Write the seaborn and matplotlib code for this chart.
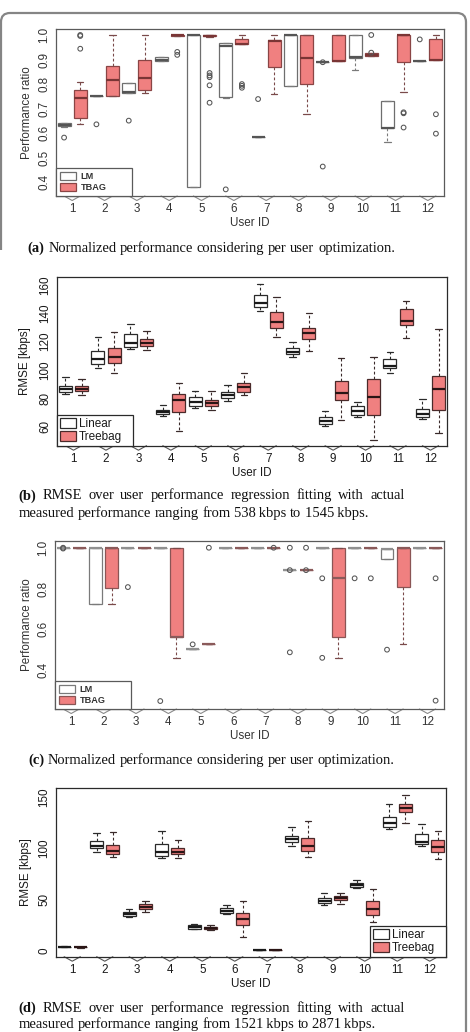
import numpy as np
import pandas as pd
import matplotlib
matplotlib.use("Agg")
import matplotlib.pyplot as plt
import matplotlib.transforms as mtransforms
from matplotlib.patches import Patch, FancyBboxPatch, Rectangle
import seaborn as sns

# ---------------- data ----------------
users = [str(i) for i in range(1, 13)]
SLOTS = list(range(24))

# five-number summaries per user: [lower whisker, Q1, median, Q3, upper whisker]
a_names = ["LM", "TBAG"]
a_lm = [
    [0.625, 0.628, 0.632, 0.640, 0.642],
    [0.750, 0.750, 0.750, 0.750, 0.750],
    [0.765, 0.765, 0.766, 0.805, 0.805],
    [0.894, 0.895, 0.897, 0.912, 0.912],
    [0.382, 0.382, 0.998, 1.000, 1.000],
    [0.742, 0.746, 0.955, 0.966, 0.966],
    [0.583, 0.583, 0.583, 0.583, 0.583],
    [0.792, 0.792, 0.998, 1.000, 1.000],
    [0.888, 0.888, 0.888, 0.888, 0.888],
    [0.856, 0.908, 0.912, 1.000, 1.000],
    [0.563, 0.620, 0.622, 0.731, 0.731],
    [0.894, 0.894, 0.894, 0.894, 0.894],
]
a_tbag = [
    [0.636, 0.661, 0.742, 0.776, 0.810],
    [0.750, 0.752, 0.815, 0.875, 1.000],
    [0.762, 0.776, 0.824, 0.898, 1.000],
    [0.995, 0.997, 1.000, 1.000, 1.000],
    [0.993, 0.994, 0.996, 0.999, 1.000],
    [0.962, 0.962, 0.965, 0.982, 1.000],
    [0.758, 0.870, 0.976, 0.980, 1.000],
    [0.677, 0.800, 0.908, 1.000, 1.000],
    [0.893, 0.893, 0.894, 1.000, 1.000],
    [0.915, 0.915, 0.917, 0.925, 0.925],
    [0.768, 0.889, 0.998, 1.000, 1.000],
    [0.897, 0.897, 0.898, 0.982, 1.000],
]
a_out_lm = {1: [0.582], 2: [0.636], 3: [0.651], 6: [0.371], 7: [0.739],
            9: [0.889, 0.464], 12: [0.982]}
a_out_tbag = {1: [1.0, 0.996, 0.944], 4: [0.931, 0.919],
              5: [0.845, 0.835, 0.828, 0.795, 0.724], 6: [0.800, 0.793, 0.785],
              10: [1.0, 0.928], 11: [0.685, 0.681, 0.623], 12: [0.677, 0.598]}

b_names = ["Linear", "Treebag"]
b_lin = [
    [83.1, 84.5, 86.8, 88.9, 95.3],
    [101.6, 104.2, 107.8, 113.2, 123.5],
    [114.8, 116.5, 119.3, 125.4, 132.5],
    [67.5, 68.7, 70.6, 71.8, 75.3],
    [73.0, 74.6, 77.6, 81.0, 85.4],
    [78.1, 80.0, 82.1, 84.5, 89.2],
    [141.9, 144.7, 147.1, 152.9, 160.5],
    [109.4, 111.1, 112.9, 115.3, 119.8],
    [60.5, 61.6, 64.2, 67.1, 71.3],
    [66.6, 68.2, 71.3, 74.6, 77.6],
    [98.1, 101.2, 102.8, 107.5, 112.9],
    [65.2, 66.6, 68.9, 72.2, 79.3],
]
b_tree = [
    [82.6, 84.9, 86.4, 88.7, 93.6],
    [97.6, 104.7, 109.4, 115.8, 127.1],
    [114.1, 116.7, 119.3, 121.9, 127.5],
    [57.0, 70.1, 78.8, 82.8, 90.6],
    [71.8, 74.6, 76.9, 79.1, 85.2],
    [82.1, 84.7, 88.2, 91.1, 97.9],
    [123.1, 129.4, 133.6, 141.2, 151.8],
    [113.6, 121.9, 126.4, 129.9, 140.0],
    [64.7, 78.8, 83.5, 92.5, 108.7],
    [50.6, 68.2, 80.7, 93.9, 108.9],
    [122.4, 131.5, 134.4, 142.8, 148.9],
    [55.3, 71.8, 86.8, 95.5, 128.7],
]

c_lm = [
    [1.0, 1.0, 1.0, 1.0, 1.0],
    [0.722, 0.722, 1.0, 1.0, 1.0],
    [1.0, 1.0, 1.0, 1.0, 1.0],
    [1.0, 1.0, 1.0, 1.0, 1.0],
    [0.501, 0.501, 0.501, 0.501, 0.501],
    [1.0, 1.0, 1.0, 1.0, 1.0],
    [1.0, 1.0, 1.0, 1.0, 1.0],
    [0.890, 0.890, 0.890, 0.890, 0.890],
    [1.0, 1.0, 1.0, 1.0, 1.0],
    [1.0, 1.0, 1.0, 1.0, 1.0],
    [0.943, 0.943, 0.992, 0.992, 0.992],
    [1.0, 1.0, 1.0, 1.0, 1.0],
]
c_tbag = [
    [1.0, 1.0, 1.0, 1.0, 1.0],
    [0.722, 0.804, 1.0, 1.0, 1.0],
    [1.0, 1.0, 1.0, 1.0, 1.0],
    [0.461, 0.563, 0.563, 1.0, 1.0],
    [0.526, 0.526, 0.526, 0.526, 0.526],
    [1.0, 1.0, 1.0, 1.0, 1.0],
    [1.0, 1.0, 1.0, 1.0, 1.0],
    [0.890, 0.890, 0.890, 0.890, 0.890],
    [0.460, 0.563, 0.850, 1.0, 1.0],
    [1.0, 1.0, 1.0, 1.0, 1.0],
    [0.528, 0.805, 1.0, 1.0, 1.0],
    [1.0, 1.0, 1.0, 1.0, 1.0],
]
c_out_lm = {1: [1.0, 0.996], 3: [0.807], 4: [0.248], 5: [0.526],
            8: [1.0, 0.890, 0.487], 9: [0.850, 0.460], 10: [0.850], 11: [0.500]}
c_out_tbag = {5: [1.0], 7: [1.0], 8: [1.0, 0.890], 10: [0.850], 12: [0.850, 0.250]}

d_lin = [
    [3.4, 3.6, 3.8, 4.0, 4.2],
    [96.8, 100.1, 102.4, 107.3, 114.8],
    [33.3, 34.2, 35.9, 38.2, 41.1],
    [90.3, 92.6, 96.8, 104.0, 117.1],
    [20.9, 21.5, 23.2, 24.8, 26.1],
    [35.5, 37.2, 39.1, 41.4, 44.4],
    [0.3, 0.4, 0.5, 0.6, 0.7],
    [102.7, 106.6, 109.2, 112.5, 120.7],
    [44.7, 46.3, 48.9, 51.2, 56.1],
    [61.0, 62.6, 64.2, 65.9, 69.1],
    [118.7, 120.7, 125.2, 130.4, 143.5],
    [102.4, 104.0, 106.6, 114.1, 123.9],
]
d_tree = [
    [3.1, 3.3, 3.5, 3.7, 3.9],
    [92.0, 94.6, 97.8, 103.0, 115.8],
    [37.5, 41.1, 43.0, 45.7, 48.6],
    [90.3, 94.2, 96.8, 100.4, 108.3],
    [20.2, 20.9, 22.2, 23.5, 24.8],
    [13.7, 25.6, 31.3, 36.5, 48.3],
    [0.3, 0.4, 0.5, 0.6, 0.7],
    [92.0, 97.2, 102.4, 109.9, 127.2],
    [45.7, 49.2, 51.5, 53.5, 56.1],
    [28.4, 35.2, 41.1, 48.3, 60.7],
    [125.2, 136.0, 139.2, 143.5, 152.3],
    [89.4, 96.8, 101.7, 107.9, 117.4],
]

captions = {
    "a": [["(a)", "Normalized", "performance", "considering", "per", "user", "optimization."]],
    "b": [["(b)", "RMSE", "over", "user", "performance", "regression", "fitting", "with", "actual"],
          ["measured", "performance", "ranging", "from", "538\u2009kbps", "to", "1545\u2009kbps."]],
    "c": [["(c)", "Normalized", "performance", "considering", "per", "user", "optimization."]],
    "d": [["(d)", "RMSE", "over", "user", "performance", "regression", "fitting", "with", "actual"],
          ["measured", "performance", "ranging", "from", "1521\u2009kbps", "to", "2871\u2009kbps."]],
}

# ---------------- style ----------------
sns.set_style("white")
plt.rcParams["font.family"] = ["Liberation Sans", "DejaVu Sans"]

W, H = 470, 1032
fig = plt.figure(figsize=(W / 100, H / 100), dpi=100)
FILL_RED = "#F08080"


def build(lm, tb, names):
    rows = []
    for mi, summ in enumerate([lm, tb]):
        for ui, vals in enumerate(summ):
            for v in vals:
                rows.append({"slot": 2 * ui + mi, "model": names[mi], "value": v})
    return pd.DataFrame(rows)


def build_out(olm, otb, names):
    rows = []
    for mi, od in enumerate([olm, otb]):
        for u, vals in od.items():
            for v in vals:
                rows.append({"slot": 2 * (u - 1) + mi, "model": names[mi], "value": v})
    return pd.DataFrame(rows, columns=["slot", "model", "value"])


def panel(rect, lm, tb, olm, otb, names, ylim, yticks, ytl, ylabel, ylab_x, st, leg):
    x0, y0, x1, y1 = rect
    wpx, hpx = x1 - x0, y1 - y0
    ax = fig.add_axes([x0 / W, 1 - y1 / H, wpx / W, hpx / H])
    df = build(lm, tb, names)
    od = build_out(olm, otb, names)
    fills = ["white", FILL_RED]
    for mi, name in enumerate(names):
        sub = df[df["model"] == name]
        edge = st["edge"][mi]
        sns.boxplot(data=sub, x="slot", y="value", order=SLOTS, color=fills[mi],
                    saturation=1, linecolor=edge, linewidth=st["lw"], width=0.8,
                    whis=(0, 100), showfliers=False,
                    whiskerprops=dict(linestyle=(0, (2.5, 2)), color=st["whisk"][mi], linewidth=0.8),
                    capprops=dict(color=st["whisk"][mi], linewidth=0.9),
                    medianprops=dict(linewidth=1.6, color=st["med"][mi]),
                    ax=ax)
        osub = od[od["model"] == name]
        if len(osub):
            n0 = len(ax.collections)
            sns.stripplot(data=osub, x="slot", y="value", order=SLOTS, jitter=False,
                          color="white", edgecolor=st["out"], linewidth=0.75, size=3.4, ax=ax)
            for c in ax.collections[n0:]:
                c.set_facecolor("none")
    ax.set_xlim(-0.5, 23.5)
    ax.set_ylim(*ylim)
    ax.set_xticks([2 * k + 0.5 for k in range(12)])
    ax.set_xticklabels(users)
    ax.set_yticks(yticks)
    ax.set_yticklabels(ytl)
    ax.tick_params(length=0, labelsize=8.4, colors=st["text"])
    ax.tick_params(axis="x", pad=5)
    ax.tick_params(axis="y", pad=4.3, labelrotation=90)
    for t in ax.get_yticklabels():
        t.set_va("center")
    ax.set_xlabel("User ID", fontsize=8.4, color=st["text"])
    ax.xaxis.set_label_coords(0.5, -27 / hpx)
    ax.xaxis.label.set_va("center")
    ax.set_ylabel(ylabel, fontsize=8.4, color=st["text"])
    ax.yaxis.set_label_coords((ylab_x - x0) / wpx, 0.5)
    ax.yaxis.label.set_va("center")
    for s in ax.spines.values():
        s.set_visible(True)
        s.set_color(st["spine"])
        s.set_linewidth(0.9)
    # chevron marks under the axis
    trans = mtransforms.blended_transform_factory(ax.transData, ax.transAxes)
    dd = 4.5 / hpx
    for k in range(12):
        ax.plot([2 * k, 2 * k + 0.5, 2 * k + 1], [0, -dd, 0], transform=trans,
                clip_on=False, color=st["chev"], lw=0.8)
    # legend
    handles = [Patch(facecolor=fills[i], edgecolor=st["edge"][i], linewidth=0.9, label=names[i])
               for i in range(2)]
    lw_, lh_ = leg["w"] / wpx, leg["h"] / hpx
    if leg["side"] == "left":
        bbox, loc = (0, 0, lw_, lh_), "lower left"
    else:
        bbox, loc = (1 - lw_, 0, lw_, lh_), "lower right"
    L = ax.legend(handles=handles, loc=loc, bbox_to_anchor=bbox, mode="expand",
                  borderaxespad=0, fancybox=False, frameon=True, framealpha=1,
                  prop=dict(family="Liberation Sans", size=leg["fs"], weight=leg["weight"]),
                  handlelength=leg["hl"], handleheight=leg["hh"], handletextpad=leg["htp"],
                  labelspacing=leg["ls"], borderpad=leg["bp"], edgecolor=st["spine"])
    L.get_frame().set_linewidth(0.9)
    for t in L.get_texts():
        t.set_color(st["text"])
    return ax


style_grey = dict(text="#333333", spine="#5a5a5a", edge=["#6e6e6e", "#8a4545"],
                  whisk=["#7a7a7a", "#7a4a4a"], med=["#555555", "#7a3535"],
                  out="#555555", chev="#8a8a8a", lw=0.9)
style_grey_c = dict(style_grey, edge=["#7a7a7a", "#8a5555"], med=["#909090", "#8a5a5a"])
style_dark = dict(text="#1a1a1a", spine="#2a2a2a", edge=["#2a2a2a", "#4a2a2a"],
                  whisk=["#2a2a2a", "#3a2a2a"], med=["#1a1a1a", "#2a1515"],
                  out="#333333", chev="#555555", lw=0.9)

leg_small = dict(side="left", w=76, h=31, fs=6.6, weight="bold", hl=1.75, hh=1.05,
                 htp=0.5, ls=0.18, bp=0.42)
leg_big = dict(side="left", w=76, h=30.7, fs=8.5, weight="normal", hl=1.36, hh=0.9,
               htp=0.25, ls=0.08, bp=0.25)

panel((56, 29, 444, 196), a_lm, a_tbag, a_out_lm, a_out_tbag, a_names,
      (0.344, 1.0244), [0.4, 0.5, 0.6, 0.7, 0.8, 0.9, 1.0],
      ["0.4", "0.5", "0.6", "0.7", "0.8", "0.9", "1.0"], "Performance ratio", 27,
      style_grey, leg_small)
panel((57.3, 277.3, 446.7, 445.7), b_lin, b_tree, {}, {}, b_names,
      (46.6, 165.4), [60, 80, 100, 120, 140, 160],
      ["60", "80", "100", "120", "140", "160"], "RMSE [kbps]", 25.3,
      style_dark, leg_big)
panel((55, 541, 443.7, 709), c_lm, c_tbag, c_out_lm, c_out_tbag, a_names,
      (0.209, 1.033), [0.4, 0.6, 0.8, 1.0], ["0.4", "0.6", "0.8", "1.0"],
      "Performance ratio", 27, style_grey_c, leg_small)
leg_d = dict(leg_big, side="right")
panel((56, 788.3, 446, 956.7), d_lin, d_tree, {}, {}, b_names,
      (-5.85, 158.8), [0, 50, 100, 150], ["0", "50", "100", "150"],
      "RMSE [kbps]", 25.7, style_dark, leg_d)

# ---------------- captions ----------------
renderer = fig.canvas.get_renderer()
IDT = mtransforms.IdentityTransform()
SERIF = ["Liberation Serif", "DejaVu Serif"]


def make_words(words, fs, bold_first):
    arts = []
    for i, w in enumerate(words):
        t = fig.text(0, 0, w, fontsize=fs, family=SERIF,
                     weight="bold" if (bold_first and i == 0) else "normal",
                     transform=IDT, va="baseline", ha="left", color="#111111")
        arts.append(t)
    widths = [t.get_window_extent(renderer).width for t in arts]
    return arts, widths


# calibrate caption font size on a natural-width line
tmp, tw = make_words(captions["b"][1], 10, False)
natural = sum(tw) + 10 * 100 / 72 * 0.25 * (len(tw) - 1)
for t in tmp:
    t.remove()
FS = 10 * 349 / natural
BASE = 0.3 * FS * 100 / 72  # from visual line centre to baseline


def line(words, y, x0=None, x1=None, center=None, bold_first=True):
    arts, widths = make_words(words, FS, bold_first)
    space = FS * 100 / 72 * 0.25
    if x1 is not None:
        gap = (x1 - x0 - sum(widths)) / (len(words) - 1)
    else:
        gap = space
    total = sum(widths) + gap * (len(words) - 1)
    if center is not None:
        x0 = center - total / 2
    x = x0
    for t, w in zip(arts, widths):
        t.set_position((x, H - (y + BASE)))
        x += w + gap


line(captions["a"][0], 247.7, center=211.3)
line(captions["b"][0], 495.0, x0=18.3, x1=404.3)
line(captions["b"][1], 512.3, x0=18.3, bold_first=False)
line(captions["c"][0], 759.3, center=211.3)
line(captions["d"][0], 1007.3, x0=18.3, x1=404.3)
line(captions["d"][1], 1023.3, x0=18.3, bold_first=False)

# ---------------- page frame ----------------
frame = FancyBboxPatch((1, -70), 465, H - 13 + 70, boxstyle="round,pad=0,rounding_size=9",
                       transform=IDT, fill=False, ec="#858585", lw=1.6)
fig.patches.append(frame)
mask = Rectangle((-3, -10), 6, H - 250 + 10, transform=IDT, fc="white", ec="none")
fig.patches.append(mask)

fig.savefig("out.png", dpi=100)
